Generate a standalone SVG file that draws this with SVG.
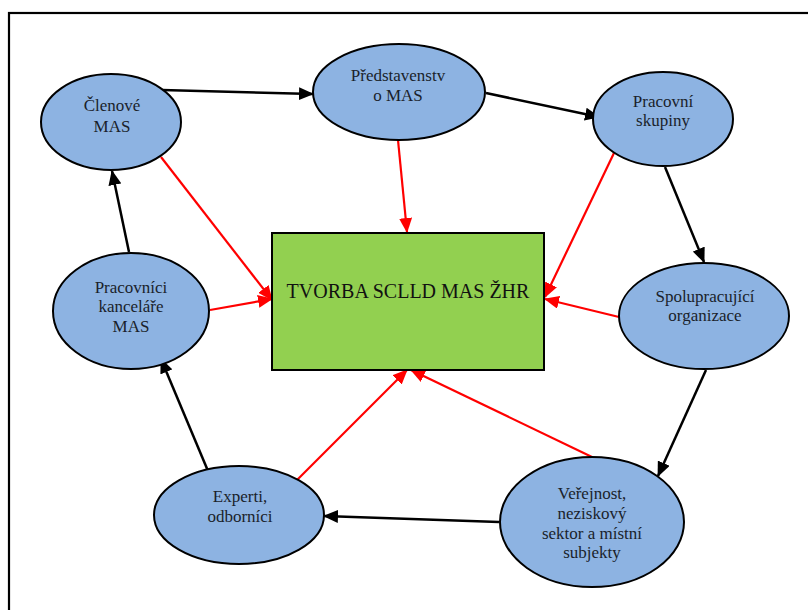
<svg xmlns="http://www.w3.org/2000/svg" width="808" height="610" viewBox="0 0 808 610">
<defs>
<marker id="ab" markerUnits="userSpaceOnUse" markerWidth="15" markerHeight="13" refX="14" refY="6.5" orient="auto"><path d="M0,0 L15,6.5 L0,13 z" fill="#000"/></marker>
<marker id="ar" markerUnits="userSpaceOnUse" markerWidth="15" markerHeight="13" refX="14" refY="6.5" orient="auto"><path d="M0,0 L15,6.5 L0,13 z" fill="#f00"/></marker>
<style>
.n{fill:#8db3e2;stroke:#000;stroke-width:2}
.k{stroke:#000;stroke-width:2.5;fill:none;marker-end:url(#ab)}
.r{stroke:#f00;stroke-width:2.2;fill:none;marker-end:url(#ar)}
</style>
</defs>
<rect x="0" y="0" width="808" height="610" fill="#fff"/>
<rect x="9" y="13" width="830" height="640" fill="none" stroke="#000" stroke-width="2.2"/>
<g id="connectors">
<line class="k" x1="162" y1="90" x2="313" y2="94"/>
<line class="k" x1="486" y1="93" x2="599" y2="117"/>
<line class="k" x1="665" y1="167" x2="704" y2="262"/>
<line class="k" x1="706" y1="370" x2="658" y2="476"/>
<line class="k" x1="499" y1="522" x2="324" y2="516"/>
<line class="k" x1="208" y1="471" x2="161" y2="359"/>
<line class="k" x1="129" y1="252" x2="112" y2="171"/>
<line class="r" x1="161" y1="157" x2="272" y2="300"/>
<line class="r" x1="398" y1="140" x2="407" y2="232"/>
<line class="r" x1="614" y1="153" x2="545" y2="297"/>
<line class="r" x1="210" y1="310" x2="272" y2="299"/>
<line class="r" x1="619" y1="317" x2="545" y2="299"/>
<line class="r" x1="297" y1="480" x2="407" y2="370"/>
<line class="r" x1="592" y1="457" x2="411" y2="370"/>
</g>
<g id="center">
<rect x="272" y="233" width="272" height="137" fill="#92d050" stroke="#000" stroke-width="2"/>
<text x="408" y="298" font-family="Liberation Serif, Times New Roman, serif" font-size="20" fill="#111" text-anchor="middle">TVORBA SCLLD MAS ŽHR</text>
</g>
<g font-family="Liberation Serif, Times New Roman, serif" font-size="17" fill="#1a1f2b" text-anchor="middle">
<g id="clenove">
<ellipse class="n" cx="111" cy="122" rx="70" ry="48"/>
<text x="112" y="111">Členové</text>
<text x="112" y="132">MAS</text>
</g>
<g id="predstavenstvo">
<ellipse class="n" cx="399" cy="92" rx="86" ry="48"/>
<text x="398" y="81">Představenstv</text>
<text x="398" y="101">o MAS</text>
</g>
<g id="skupiny">
<ellipse class="n" cx="663" cy="119" rx="70" ry="47"/>
<text x="663" y="107">Pracovní</text>
<text x="663" y="126">skupiny</text>
</g>
<g id="kancelar">
<ellipse class="n" cx="131" cy="311" rx="78" ry="58"/>
<text x="131" y="293">Pracovníci</text>
<text x="131" y="312">kanceláře</text>
<text x="131" y="332">MAS</text>
</g>
<g id="spoluprac">
<ellipse class="n" cx="704" cy="316" rx="85" ry="53"/>
<text x="705" y="302">Spolupracující</text>
<text x="705" y="321">organizace</text>
</g>
<g id="experti">
<ellipse class="n" cx="239" cy="515" rx="85" ry="49"/>
<text x="240" y="502">Experti,</text>
<text x="240" y="522">odborníci</text>
</g>
<g id="verejnost">
<ellipse class="n" cx="592" cy="522" rx="92" ry="65"/>
<text x="592" y="499">Veřejnost,</text>
<text x="592" y="519">neziskový</text>
<text x="592" y="539">sektor a místní</text>
<text x="592" y="558">subjekty</text>
</g>
</g>
</svg>
